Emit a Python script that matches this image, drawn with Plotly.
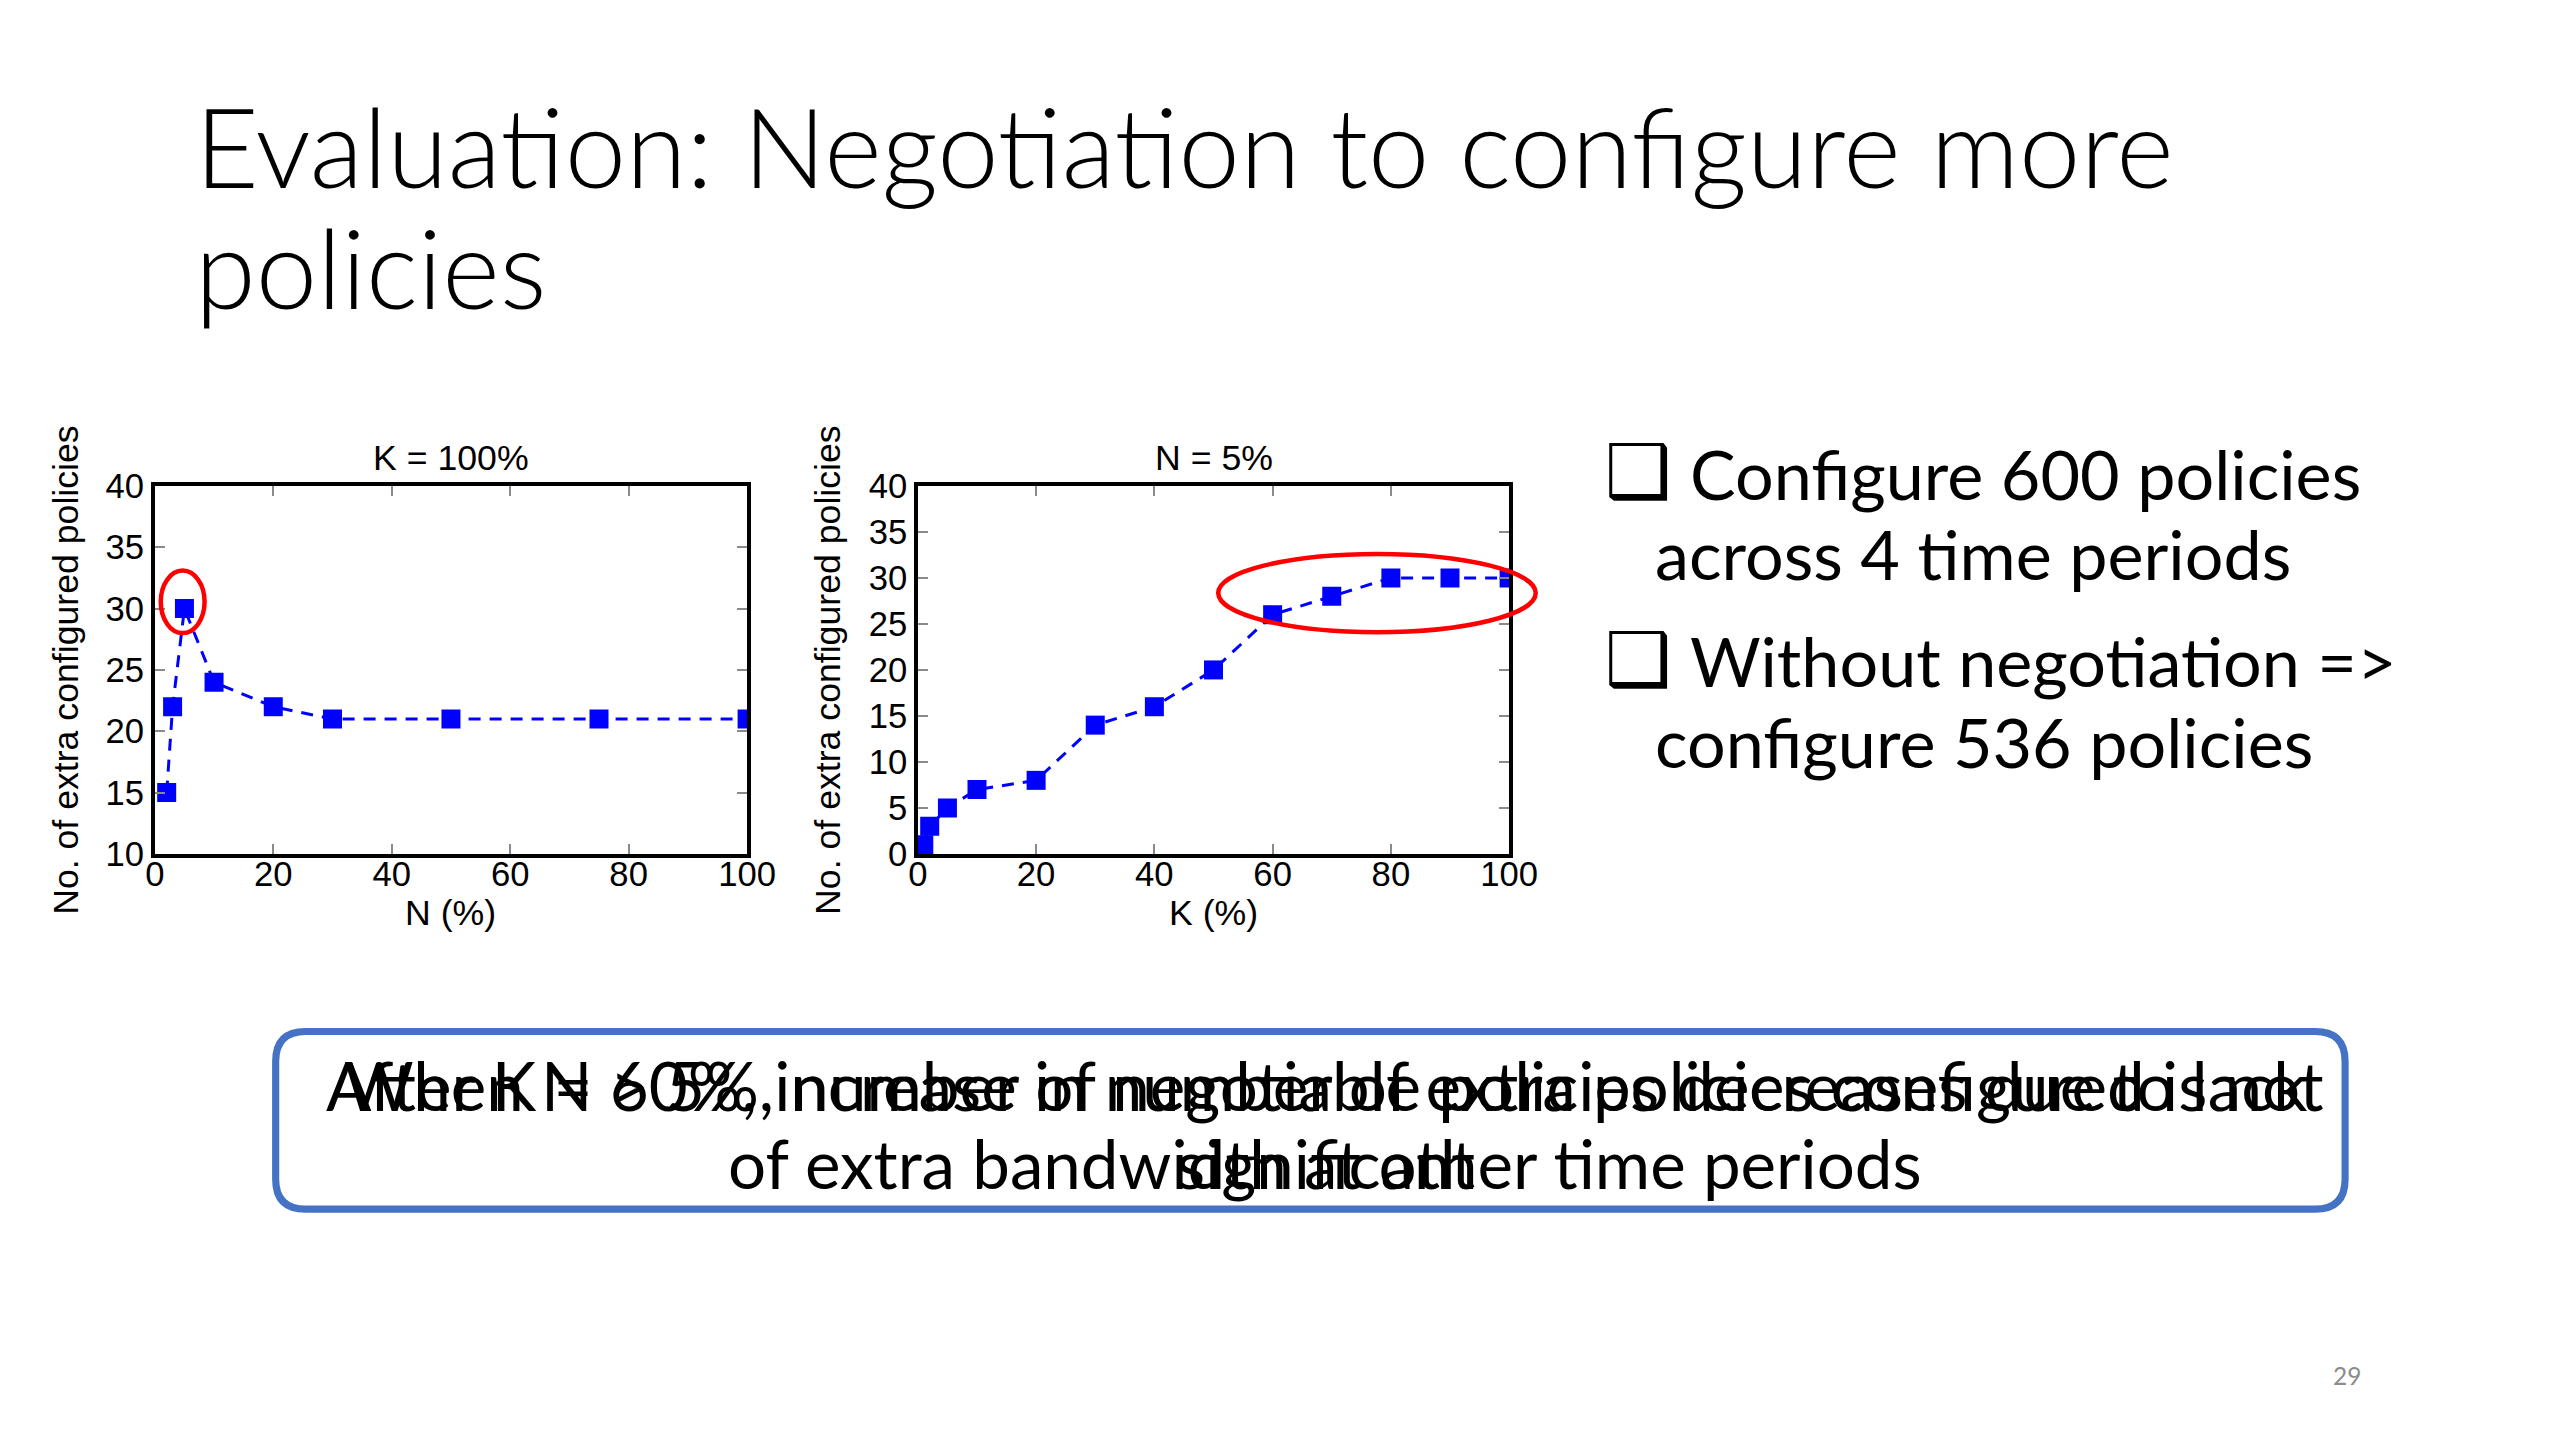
import plotly.graph_objects as go

W, H = 2560, 1440

# ---------------- data ----------------
n_pct = [2, 3, 5, 10, 20, 30, 50, 75, 100]
extra_k100 = [15, 22, 30, 24, 22, 21, 21, 21, 21]

k_pct = [1, 2, 5, 10, 20, 30, 40, 50, 60, 70, 80, 90, 100]
extra_n5 = [1, 3, 5, 7, 8, 14, 16, 20, 26, 28, 30, 30, 30]

x_ticks = [0, 20, 40, 60, 80, 100]
y_ticks_left = [10, 15, 20, 25, 30, 35, 40]
y_ticks_right = [0, 5, 10, 15, 20, 25, 30, 35, 40]

left_title = "K = 100%"
right_title = "N = 5%"
left_xlabel = "N (%)"
right_xlabel = "K (%)"
ylabel = "No. of extra configured policies"

# highlighted regions (data units): x0, x1, y0, y1
hl_left = [1.0, 8.4, 28.0, 33.1]
hl_right = [50.8, 104.5, 24.1, 32.6]

slide_title_1 = "Evaluation: Negotiation to configure more"
slide_title_2 = "policies"
bullets = [("Configure 600 policies", "across 4 time periods"),
           ("Without negotiation =>", "configure 536 policies")]
box_text_a = ["After K = 60%, increase in number of extra policies configured is not",
              "significant"]
box_text_b = ["When N > 5%, number of negotiable policies decreases due to lack",
              "of extra bandwidth at other time periods"]
page_no = "29"

# ---------------- helpers ----------------
# the page is captured slightly scaled/offset; map target pixel positions back
SX, OX, SY, OY = 0.986, 16.0, 0.976, 23.0
SF = (SX + SY) / 2

def px(x):
    return ((x - OX) / SX) / W

def py(y):
    return 1 - ((y - OY) / SY) / H

def fs(s):
    return s / SF

BLUE = "#0000FF"
CHART_FAMILY = "Liberation Sans, Arial, sans-serif"
AX_FONT = dict(family=CHART_FAMILY, size=fs(34), color="black")
SLIDE_FONT = "Lato, sans-serif"

fig = go.Figure()

fig.add_trace(go.Scatter(
    x=n_pct, y=extra_k100, mode="lines+markers", xaxis="x", yaxis="y",
    line=dict(color=BLUE, width=3, dash="12px,9px"),
    marker=dict(symbol="square", size=19, color=BLUE),
    showlegend=False, cliponaxis=True))

fig.add_trace(go.Scatter(
    x=k_pct, y=extra_n5, mode="lines+markers", xaxis="x2", yaxis="y2",
    line=dict(color=BLUE, width=3, dash="12px,9px"),
    marker=dict(symbol="square", size=19, color=BLUE),
    showlegend=False, cliponaxis=True))

xr = [0, 100]
yr_left = [10, 40]
yr_right = [0, 40]

axis_common = dict(
    showgrid=False, zeroline=False, showline=True, linecolor="black", linewidth=3.5,
    mirror="ticks", ticks="inside", ticklen=10, tickwidth=1.5, tickcolor="#8a8a8a",
    tickfont=AX_FONT,
)

C1 = (153, 746)
C2 = (917, 1509)
CY = (483, 852)
dom1 = [px(C1[0]), px(C1[1])]
dom2 = [px(C2[0]), px(C2[1])]
ydom = [py(CY[1]), py(CY[0])]

fig.update_layout(
    width=W, height=H, margin=dict(l=0, r=0, t=0, b=0),
    paper_bgcolor="white", plot_bgcolor="white",
    xaxis=dict(domain=dom1, range=xr, tickvals=x_ticks, anchor="y",
               ticklabelstandoff=-13, **axis_common),
    yaxis=dict(domain=ydom, range=yr_left, tickvals=y_ticks_left, anchor="x", **axis_common),
    xaxis2=dict(domain=dom2, range=xr, tickvals=x_ticks, anchor="y2",
                ticklabelstandoff=-13, **axis_common),
    yaxis2=dict(domain=ydom, range=yr_right, tickvals=y_ticks_right, anchor="x2", **axis_common),
)

# red ellipses (domain coordinates derived from data ranges, so they are not clipped)
def ellipse(h, xax, yax, rng_x, rng_y):
    fx = lambda v: (v - rng_x[0]) / (rng_x[1] - rng_x[0])
    fy = lambda v: (v - rng_y[0]) / (rng_y[1] - rng_y[0])
    return dict(type="circle", xref=f"{xax} domain", yref=f"{yax} domain",
                x0=fx(h[0]), x1=fx(h[1]), y0=fy(h[2]), y1=fy(h[3]),
                line=dict(color="#FF0000", width=4.5), fillcolor="rgba(0,0,0,0)", layer="above")

shapes = [ellipse(hl_left, "x", "y", xr, yr_left),
          ellipse(hl_right, "x2", "y2", xr, yr_right)]

# rounded callout box
bx0, bx1, by0, by1, r = 274, 2346, 1030, 1208, 30
X0, X1, Y0, Y1 = px(bx0), px(bx1), py(by1), py(by0)
rx, ry = (px(bx0 + r) - X0), (py(by0) - py(by0 + r))
path = (f"M {X0+rx},{Y0} L {X1-rx},{Y0} Q {X1},{Y0} {X1},{Y0+ry} "
        f"L {X1},{Y1-ry} Q {X1},{Y1} {X1-rx},{Y1} L {X0+rx},{Y1} "
        f"Q {X0},{Y1} {X0},{Y1-ry} L {X0},{Y0+ry} Q {X0},{Y0} {X0+rx},{Y0} Z")
shapes.append(dict(type="path", xref="paper", yref="paper", path=path,
                   line=dict(color="#4472C4", width=fs(7)), fillcolor="white", layer="below"))
fig.update_layout(shapes=shapes)

ann = []
def text(t, x, y, size, family=SLIDE_FONT, color="black", xanchor="left", yanchor="middle",
         angle=0, weight=None):
    f = dict(family=family, size=fs(size), color=color)
    if weight is not None:
        f["weight"] = weight
    ann.append(dict(text=t, x=px(x), y=py(y), xref="paper", yref="paper", showarrow=False,
                    xanchor=xanchor, yanchor=yanchor, textangle=angle, font=f))

# chart titles / axis labels
cx1 = (C1[0] + C1[1]) / 2
cx2 = (C2[0] + C2[1]) / 2
cy = (CY[0] + CY[1]) / 2
text(left_title, cx1, 455, 35, family=CHART_FAMILY, xanchor="center")
text(right_title, cx2, 455, 35, family=CHART_FAMILY, xanchor="center")
text(left_xlabel, cx1, 911, 35, family=CHART_FAMILY, xanchor="center")
text(right_xlabel, cx2, 911, 35, family=CHART_FAMILY, xanchor="center")
text(ylabel, 64, cy, 35, family=CHART_FAMILY, xanchor="center", angle=-90)
text(ylabel, 827, cy, 35, family=CHART_FAMILY, xanchor="center", angle=-90)

# slide title
text(slide_title_1, 191, 141, 108, weight=300)
text(slide_title_2, 191, 263, 108, weight=300)

# bullets
bullet_y = [(471, 551), (659, 740)]
for (l1, l2), (y1, y2) in zip(bullets, bullet_y):
    text("\u2751", 1639, y1 - 2, 73, family="DejaVu Sans", xanchor="center")
    text(l1, 1688, y1, 67)
    text(l2, 1653, y2, 67)

# callout text (two overlapping text layers)
for lines in (box_text_a, box_text_b):
    text(lines[0], 1325, 1084, 66, xanchor="center")
    text(lines[1], 1325, 1162, 66, xanchor="center")

text(page_no, 2348, 1375, 24, color="#8C8C8C", xanchor="center")

fig.update_layout(annotations=ann)
fig.write_html("out.html")
